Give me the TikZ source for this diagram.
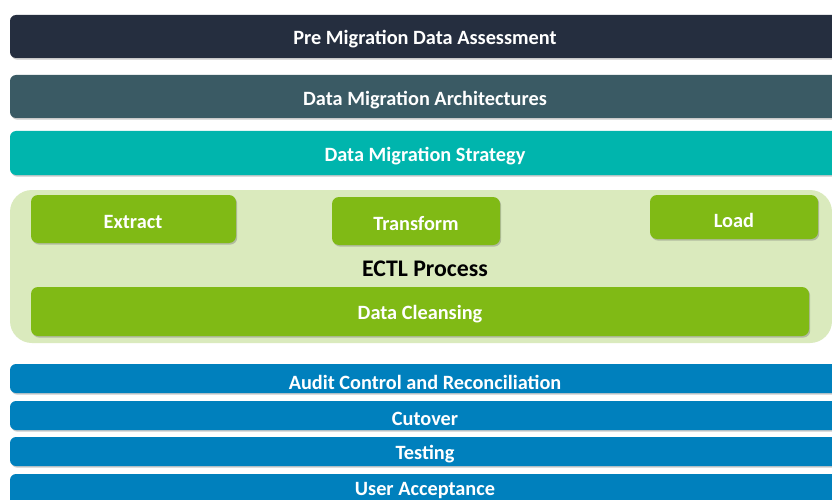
\documentclass[tikz,border=0pt]{standalone}
\usepackage{fontspec}
\setmainfont{Carlito}
\usetikzlibrary{shadows}
\definecolor{navy}{HTML}{252E3F}
\definecolor{slate}{HTML}{3A5A64}
\definecolor{tealbar}{HTML}{00B5AD}
\definecolor{lightgreen}{HTML}{DAEABD}
\definecolor{leaf}{HTML}{80BA15}
\definecolor{bluebar}{HTML}{0080BD}
\tikzset{
  bar/.style={rounded corners=6pt,
    drop shadow={shadow xshift=1.2pt, shadow yshift=-1.6pt, opacity=0.35, fill=black!60}},
  stepbox/.style={bar, rounded corners=7pt},
  lbl/.style={text=white, inner sep=0pt, yshift=-1.5pt, font=\bfseries\fontsize{20.3}{24}\selectfont},
}
\newcommand{\barbox}[8]{% name, x1, y1, x2, y2, color, text, text y
  \path[bar, fill=#6] (#2pt,-#3pt) rectangle (#4pt,-#5pt);
  \node[lbl] (#1) at (425pt,-#8pt) {#7};
}
\begin{document}
\begin{tikzpicture}[x=1pt,y=1pt]
\useasboundingbox (0,0) rectangle (832,-500);
\clip (0,0) rectangle (832,-500);
\fill[white] (0,0) rectangle (832,-500);
% top bars
\barbox{pre}{10}{15}{860}{58}{navy}{Pre Migration Data Assessment}{38}
\barbox{arch}{10}{75}{860}{118}{slate}{Data Migration Architectures}{98.5}
\barbox{strat}{10}{131}{860}{175}{tealbar}{Data Migration Strategy}{155}
% ECTL container
\fill[lightgreen, rounded corners=22pt] (10,-190) rectangle (832,-343);
\node[inner sep=0pt, font=\bfseries\fontsize{23.8}{28}\selectfont, text=black] (ectl) at (425,-268.5) {ECTL Process};
\path[stepbox, fill=leaf] (31,-195) rectangle (236,-243);
\node[lbl] (extract) at (133,-220.5) {Extract};
\path[stepbox, fill=leaf] (332,-197) rectangle (500,-245);
\node[lbl] (transform) at (416,-222.5) {Transform};
\path[stepbox, fill=leaf] (650,-195) rectangle (818,-239);
\node[lbl] (load) at (734,-218.5) {Load};
\path[stepbox, fill=leaf] (31,-287) rectangle (809,-336);
\node[lbl] (clean) at (420,-313) {Data Cleansing};
% bottom bars
\barbox{audit}{10}{364}{860}{393}{bluebar}{Audit Control and Reconciliation}{380.5}
\barbox{cut}{10}{401}{860}{430}{bluebar}{Cutover}{417}
\barbox{test}{10}{437}{860}{466}{bluebar}{Testing}{453}
\barbox{uat}{10}{474}{860}{520}{bluebar}{User Acceptance}{489}
\end{tikzpicture}
\end{document}
